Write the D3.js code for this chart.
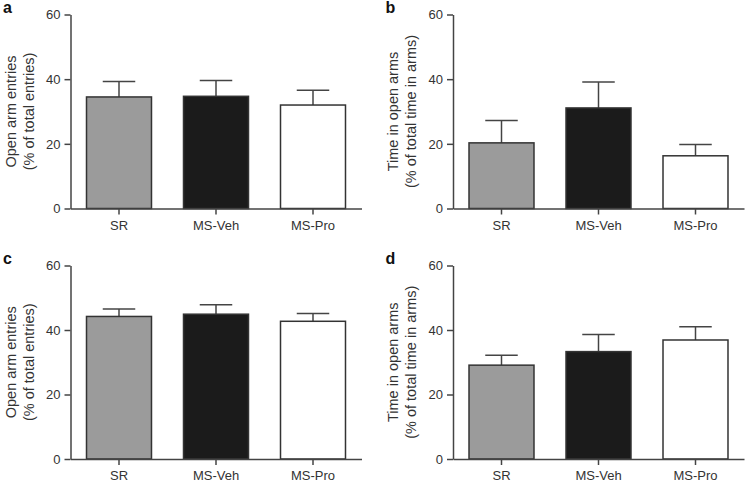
<!DOCTYPE html>
<html>
<head>
<meta charset="utf-8">
<script src="https://cdn.jsdelivr.net/npm/d3@7"></script>
<style>
  html, body { margin: 0; padding: 0; background: #fff; }
  svg { display: block; }
  text { font-family: "Liberation Sans", Arial, sans-serif; }
</style>
</head>
<body>
<svg id="chart" width="746" height="485"></svg>
<script>
const categories = ["SR", "MS-Veh", "MS-Pro"];
const yTicks = [0, 20, 40, 60];
const panelLetters = ["a", "b", "c", "d"];
const yLabelsEntries = ["Open arm entries", "(% of total entries)"];
const yLabelsTime = ["Time in open arms", "(% of total time in arms)"];

const meanA = [34.5, 34.7, 32.0];
const errA  = [39.3, 39.6, 36.6];
const meanB = [20.3, 31.1, 16.3];
const errB  = [27.2, 39.1, 19.8];
const meanC = [44.2, 44.9, 42.7];
const errC  = [46.5, 47.8, 45.1];
const meanD = [29.1, 33.3, 36.9];
const errD  = [32.2, 38.6, 41.0];

const fills = ["#9b9b9b", "#1b1b1b", "#ffffff"];

const panels = [
  { letter: panelLetters[0], mean: meanA, err: errA, labels: yLabelsEntries, ox: 70.5, top: 14.5, bottom: 208.5 },
  { letter: panelLetters[1], mean: meanB, err: errB, labels: yLabelsTime,    ox: 453,  top: 14.5, bottom: 208.5 },
  { letter: panelLetters[2], mean: meanC, err: errC, labels: yLabelsEntries, ox: 70.5, top: 265.5, bottom: 459 },
  { letter: panelLetters[3], mean: meanD, err: errD, labels: yLabelsTime,    ox: 453,  top: 265.5, bottom: 459 }
];

const svg = d3.select("#chart");
const axisColor = "#444";

panels.forEach(p => {
  const g = svg.append("g");
  const x = d3.scaleBand().domain(categories).range([p.ox, p.ox + 291]).paddingInner(0.33).paddingOuter(0.165);
  const y = d3.scaleLinear().domain([0, 60]).range([p.bottom, p.top]);

  // bars
  categories.forEach((c, i) => {
    const bx = x(c), bw = x.bandwidth(), cx = bx + bw / 2;
    // error bar
    g.append("line").attr("x1", cx).attr("x2", cx).attr("y1", y(p.mean[i])).attr("y2", y(p.err[i]))
      .attr("stroke", "#444").attr("stroke-width", 1.5);
    g.append("line").attr("x1", cx - bw / 4).attr("x2", cx + bw / 4).attr("y1", y(p.err[i])).attr("y2", y(p.err[i]))
      .attr("stroke", "#444").attr("stroke-width", 1.5);
    g.append("rect").attr("x", bx).attr("y", y(p.mean[i])).attr("width", bw).attr("height", y(0) - y(p.mean[i]))
      .attr("fill", fills[i]).attr("stroke", "#333").attr("stroke-width", 1.5);
  });

  // y axis
  const ya = g.append("g").attr("transform", `translate(${p.ox},0)`)
    .call(d3.axisLeft(y).tickValues(yTicks).tickSize(6).tickSizeOuter(0).tickPadding(4));
  ya.select(".domain").attr("stroke", axisColor).attr("stroke-width", 1.5);
  ya.selectAll(".tick line").attr("stroke", axisColor).attr("stroke-width", 1.5);
  ya.selectAll(".tick text").attr("fill", "#333").style("font-size", "13px");

  // x axis
  const xa = g.append("g").attr("transform", `translate(0,${p.bottom})`)
    .call(d3.axisBottom(x).tickSize(6).tickSizeOuter(0).tickPadding(6));
  xa.select(".domain").attr("stroke", axisColor).attr("stroke-width", 1.5);
  xa.selectAll(".tick line").attr("stroke", axisColor).attr("stroke-width", 1.5);
  xa.selectAll(".tick text").attr("fill", "#333").style("font-size", "13px");

  // y label
  const cy = (p.top + p.bottom) / 2;
  p.labels.forEach((t, k) => {
    g.append("text")
      .attr("transform", `translate(${p.ox - 55 + k * 18},${cy}) rotate(-90)`)
      .attr("text-anchor", "middle")
      .attr("fill", "#333")
      .style("font-size", "14.5px")
      .text(t);
  });

  // panel letter
  g.append("text")
    .attr("x", p.ox - 67.5)
    .attr("y", p.top - 2)
    .attr("fill", "#111")
    .style("font-size", "16px")
    .style("font-weight", "bold")
    .text(p.letter);
});
</script>
</body>
</html>
